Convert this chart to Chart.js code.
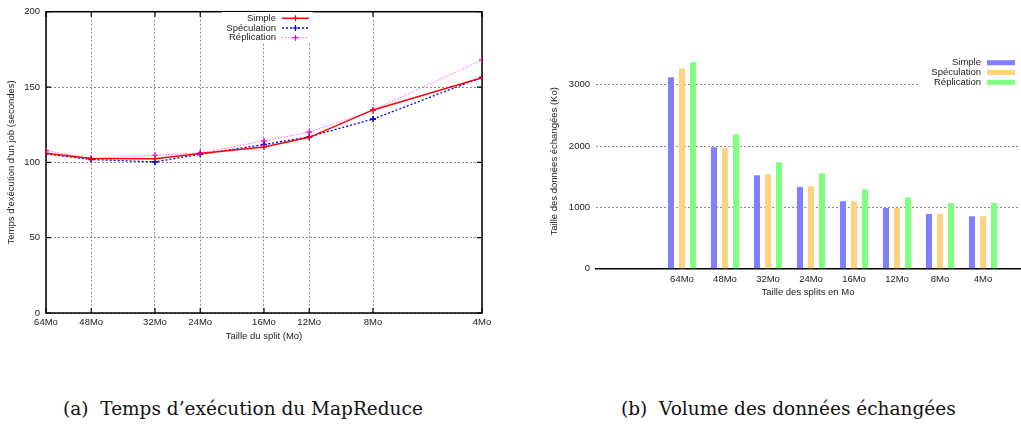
<!DOCTYPE html>
<html>
<head>
<meta charset="utf-8">
<script src="https://cdn.jsdelivr.net/npm/chart.js@4/dist/chart.umd.min.js"></script>
<style>
  body { margin: 0; background: #fff; width: 1021px; height: 424px; overflow: hidden; position: relative; }
  canvas { position: absolute; }
  .cap { position: absolute; top: 400px; font-family: "DejaVu Serif", serif; font-size: 18.5px; color: #111; white-space: nowrap; line-height: 1; }
</style>
</head>
<body>
<canvas id="temps" width="500" height="345" style="left:0;top:0"></canvas>
<canvas id="volume" width="481" height="310" style="left:540px;top:0"></canvas>
<div class="cap" style="left:63px">(a)&nbsp; Temps d’exécution du MapReduce</div>
<div class="cap" style="left:621px">(b)&nbsp; Volume des données échangées</div>
<script>
// tailles de split (Mo)
const sizes = [64, 48, 32, 24, 16, 12, 8, 4];
const sizeLabels = ["64Mo", "48Mo", "32Mo", "24Mo", "16Mo", "12Mo", "8Mo", "4Mo"];

// temps d'exécution (secondes)
const tempsSimple = [106, 102.6, 102.4, 105.8, 110.2, 116.6, 134.8, 156.2];
const tempsSpeculation = [105.7, 101.9, 100.3, 105.4, 111.8, 117, 128.7, 156.5];
const tempsReplication = [107.8, 102.5, 104.7, 106.3, 114.3, 120.1, 134.6, 168];
const tempsTicks = [0, 50, 100, 150, 200];

// volume échangé (Ko)
const volSimple = [3120, 1980, 1525, 1330, 1100, 988, 890, 857];
const volSpeculation = [3265, 1965, 1540, 1345, 1100, 988, 890, 857];
const volReplication = [3365, 2190, 1735, 1555, 1297, 1166, 1069, 1069];
const volTicks = [0, 1000, 2000, 3000];

const seriesNames = ["Simple", "Spéculation", "Réplication"];

const FONT = { family: "'Liberation Sans', Arial, sans-serif", size: 9.5 };
const TXT = "#222";
const GRID = "#8a8a8a";

Chart.defaults.font.family = FONT.family;
Chart.defaults.font.size = FONT.size;
Chart.defaults.color = TXT;

// legende façon gnuplot : texte aligné à droite puis l'échantillon
function gnuLegend(o) {
  return {
    id: 'gnuLegend',
    afterDatasetsDraw(chart) {
      const ctx = chart.ctx;
      ctx.save();
      ctx.fillStyle = '#fff';
      ctx.fillRect(o.bg[0], o.bg[1], o.bg[2], o.bg[3]);
      ctx.font = FONT.size + 'px ' + FONT.family;
      ctx.textAlign = 'right';
      ctx.textBaseline = 'middle';
      chart.data.datasets.forEach((ds, i) => {
        const y = o.y + i * o.step;
        ctx.fillStyle = TXT;
        ctx.fillText(ds.label, o.x, y);
        if (o.kind === 'box') {
          ctx.fillStyle = ds.backgroundColor;
          ctx.fillRect(o.x + o.gap, y - 2.5, o.len, 5);
        } else {
          ctx.strokeStyle = ds.borderColor;
          ctx.lineWidth = ds.borderWidth;
          ctx.setLineDash(ds.borderDash || []);
          ctx.beginPath();
          ctx.moveTo(o.x + o.gap, y);
          ctx.lineTo(o.x + o.gap + o.len, y);
          ctx.stroke();
          ctx.setLineDash([]);
          const cx = o.x + o.gap + o.len / 2;
          ctx.strokeStyle = ds.pointBorderColor;
          ctx.lineWidth = 1.2;
          ctx.beginPath();
          ctx.moveTo(cx - 3, y); ctx.lineTo(cx + 3, y);
          ctx.moveTo(cx, y - 3); ctx.lineTo(cx, y + 3);
          ctx.stroke();
        }
      });
      ctx.restore();
    }
  };
}

// cadre noir et petites graduations
const frame = {
  id: 'frame',
  beforeDatasetsDraw(chart) {
    const { ctx, chartArea: a, scales } = chart;
    ctx.save();
    ctx.strokeStyle = '#000';
    ctx.lineWidth = 1.2;
    ctx.beginPath();
    scales.y.ticks.forEach(t => {
      const p = scales.y.getPixelForValue(t.value);
      ctx.moveTo(a.left, p); ctx.lineTo(a.left + 5, p);
      ctx.moveTo(a.right, p); ctx.lineTo(a.right - 5, p);
    });
    scales.x.ticks.forEach(t => {
      const p = scales.x.getPixelForValue(t.value);
      ctx.moveTo(p, a.bottom); ctx.lineTo(p, a.bottom - 5);
      ctx.moveTo(p, a.top); ctx.lineTo(p, a.top + 5);
    });
    ctx.stroke();
    ctx.lineWidth = 1.5;
    ctx.strokeRect(a.left, a.top, a.right - a.left, a.bottom - a.top);
    ctx.restore();
  }
};

function linePts(vals) {
  return sizes.map((s, i) => ({ x: s, y: vals[i] }));
}

new Chart(document.getElementById('temps'), {
  type: 'line',
  data: {
    datasets: [
      { label: seriesNames[0], data: linePts(tempsSimple), borderColor: '#ff0000', borderWidth: 1.5,
        pointStyle: 'cross', pointRadius: 3, pointBorderColor: '#ff0000', pointBorderWidth: 1.2 },
      { label: seriesNames[1], data: linePts(tempsSpeculation), borderColor: '#0000ff', borderWidth: 1.3, borderDash: [2, 2],
        pointStyle: 'cross', pointRadius: 3, pointBorderColor: '#0000ff', pointBorderWidth: 1.6 },
      { label: seriesNames[2], data: linePts(tempsReplication), borderColor: '#ff66ff', borderWidth: 1, borderDash: [1.5, 1.5],
        pointStyle: 'cross', pointRadius: 3, pointBorderColor: '#e600e6', pointBorderWidth: 1.2 }
    ]
  },
  options: {
    responsive: false,
    animation: false,
    layout: { padding: { top: 9, right: 18, left: 0, bottom: 0 } },
    plugins: { legend: { display: false }, tooltip: { enabled: false } },
    elements: { line: { tension: 0 } },
    scales: {
      x: {
        type: 'logarithmic', reverse: true, min: 4, max: 64,
        afterBuildTicks: s => { s.ticks = sizes.map(v => ({ value: v })); },
        afterFit: s => { s.height = 32; },
        ticks: { callback: (v) => sizeLabels[sizes.indexOf(v)], padding: 4, maxRotation: 0, autoSkip: false },
        grid: { color: GRID, drawTicks: false },
        border: { display: false, dash: [2, 2] },
        title: { display: true, text: 'Taille du split (Mo)', padding: { top: 0, bottom: 3 } }
      },
      y: {
        min: 0, max: 200,
        afterBuildTicks: s => { s.ticks = tempsTicks.map(v => ({ value: v })); },
        afterFit: s => { s.width = 46; },
        ticks: { padding: 6 },
        grid: { color: GRID, drawTicks: false },
        border: { display: false, dash: [2, 2] },
        title: { display: true, text: 'Temps d’exécution d’un job (secondes)', padding: { top: 6, bottom: 0 } }
      }
    }
  },
  plugins: [frame, gnuLegend({ kind: 'line', x: 276, gap: 6, len: 27, y: 18.3, step: 9.7, bg: [222, 12, 91, 31] })]
});

function barPts(vals) {
  return vals.map((v, i) => ({ x: i, y: v }));
}

new Chart(document.getElementById('volume'), {
  type: 'bar',
  data: {
    datasets: [
      { label: seriesNames[0], data: barPts(volSimple), backgroundColor: '#8080ff' },
      { label: seriesNames[1], data: barPts(volSpeculation), backgroundColor: '#ffd280' },
      { label: seriesNames[2], data: barPts(volReplication), backgroundColor: '#80ff80' }
    ]
  },
  options: {
    responsive: false,
    animation: false,
    layout: { padding: { top: 54, right: 1, left: 0, bottom: 0 } },
    plugins: { legend: { display: false }, tooltip: { enabled: false } },
    datasets: { bar: { categoryPercentage: 0.77, barPercentage: 0.55 } },
    scales: {
      x: {
        type: 'linear', min: -2, max: 7.86, offset: false,
        afterBuildTicks: s => { s.ticks = sizeLabels.map((l, i) => ({ value: i })); },
        afterFit: s => { s.height = 41.3; },
        ticks: { callback: (v) => sizeLabels[v], padding: 5, maxRotation: 0, autoSkip: false },
        grid: { display: false, drawTicks: false },
        border: { display: true, color: '#000', width: 1.6 },
        title: { display: true, text: 'Taille des splits en Mo', padding: { top: 0, bottom: 12 } }
      },
      y: {
        min: 0, max: 3500,
        afterBuildTicks: s => { s.ticks = volTicks.map(v => ({ value: v })); },
        afterFit: s => { s.width = 56; },
        ticks: { padding: 6, callback: v => String(v) },
        grid: { color: c => c.tick.value === 0 ? 'rgba(0,0,0,0)' : GRID, drawTicks: false },
        border: { display: false, dash: [2, 2] },
        title: { display: true, text: 'Taille des données échangées (Ko)', padding: { top: 9, bottom: 0 } }
      }
    }
  },
  plugins: [gnuLegend({ kind: 'box', x: 441, gap: 6, len: 28, y: 62.7, step: 9.8, bg: [378, 54, 101, 35] })]
});
</script>
</body>
</html>
